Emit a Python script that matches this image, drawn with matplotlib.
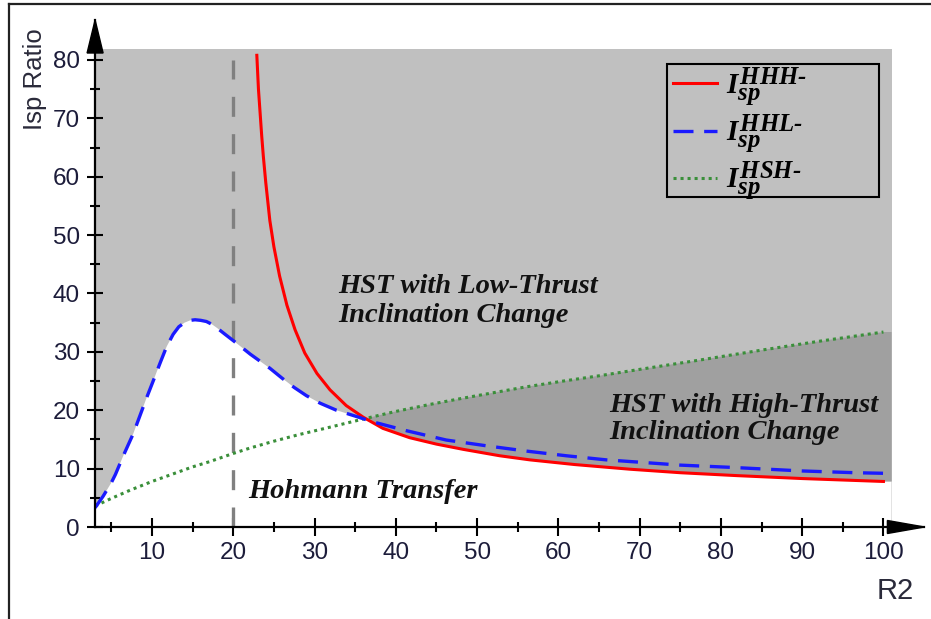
import numpy as np
import matplotlib
matplotlib.use("Agg")
import matplotlib.pyplot as plt
import matplotlib._mathtext as _mt
from matplotlib.patches import Polygon, Rectangle
from matplotlib.lines import Line2D

# ---------------- data ----------------
hhh_x = [22.9, 23.1, 23.3, 23.5, 23.7, 24.0, 24.5, 25.0, 25.7, 26.6, 27.6, 28.8,
         30.3, 31.9, 33.9, 36.0, 38.4, 41.7, 45.0, 48.3, 52.8, 56.5, 62.0, 68.8,
         75.0, 82.0, 90.0, 100.0]
hhh_y = [80.8, 75.0, 71.0, 67.0, 63.5, 59.0, 52.5, 48.0, 43.0, 38.0, 33.8, 29.8,
         26.3, 23.5, 20.8, 18.8, 16.9, 15.3, 14.2, 13.3, 12.2, 11.5, 10.7, 9.9,
         9.3, 8.8, 8.3, 7.8]

hhl_x = [3.0, 4.0, 5.0, 5.5, 6.5, 7.7, 8.5, 9.3, 10.2, 11.0, 11.8, 12.6, 13.3,
         14.0, 14.7, 15.3, 16.0, 16.7, 17.4, 18.0, 19.0, 20.3, 21.2, 22.1, 23.3,
         24.5, 26.0, 27.5, 29.0, 30.7, 32.7, 35.0, 37.2, 41.3, 46.2, 51.2, 56.1,
         61.0, 65.9, 70.0, 75.0, 81.5, 90.0, 96.5, 100.0]
hhl_y = [3.3, 5.3, 7.6, 9.0, 12.3, 16.0, 19.0, 22.0, 25.2, 28.1, 30.9, 33.0, 34.3,
         35.0, 35.4, 35.5, 35.4, 35.2, 34.7, 34.1, 33.0, 31.6, 30.6, 29.6, 28.4,
         27.2, 25.5, 23.9, 22.5, 21.2, 20.0, 19.0, 18.0, 16.5, 14.9, 13.9, 13.0,
         12.2, 11.5, 11.1, 10.6, 10.2, 9.6, 9.3, 9.2]

hsh_x = [3.0, 5.0, 7.3, 10.0, 12.2, 15.0, 17.1, 20.0, 22.0, 25.0, 28.0, 31.9, 36.0,
         40.0, 44.2, 48.0, 52.4, 56.0, 60.6, 65.0, 70.0, 77.4, 85.0, 92.0, 100.0]
hsh_y = [3.6, 4.9, 6.3, 7.8, 8.9, 10.3, 11.2, 12.6, 13.5, 14.7, 15.8, 17.1, 18.5,
         19.8, 21.0, 22.0, 23.1, 24.0, 25.0, 25.9, 27.0, 28.6, 30.3, 31.8, 33.4]

hohmann_x = 20.0
x_ticks = [10, 20, 30, 40, 50, 60, 70, 80, 90, 100]
y_ticks = [0, 10, 20, 30, 40, 50, 60, 70, 80]
legend_labels = [r'$I_{sp}^{HHH\text{-}}$', r'$I_{sp}^{HHL\text{-}}$', r'$I_{sp}^{HSH\text{-}}$']

# ---------------- style ----------------
plt.rcParams['font.family'] = ['Liberation Sans', 'DejaVu Sans']
plt.rcParams['mathtext.fontset'] = 'custom'
plt.rcParams['mathtext.it'] = 'Liberation Serif:italic:bold'
plt.rcParams['mathtext.rm'] = 'Liberation Serif:italic:bold'
plt.rcParams['mathtext.bf'] = 'Liberation Serif:italic:bold'
_mt.SHRINK_FACTOR = 0.85   # larger sub/superscripts, as in the reference legend

W, H = 931, 619
fig = plt.figure(figsize=(W / 100, H / 100), dpi=100)
AXW, AXH = 829.3, 507.0
ax = fig.add_axes([95.1 / W, (H - 527) / H, AXW / W, AXH / H])
ax.set_xlim(3, 105.04)
ax.set_ylim(0, 86.85)
ax.patch.set_alpha(0)

GRID_TOP = 81.85
GRID_RIGHT = 101.0
# background regions
ax.add_patch(Rectangle((3, 0), GRID_RIGHT - 3, GRID_TOP, facecolor='#c0c0c0',
                       edgecolor='none', zorder=0))
xs = np.linspace(3, GRID_RIGHT, 1500)
b_i = np.interp(xs, hhl_x, hhl_y)
r_i = np.interp(xs, hhh_x, hhh_y, left=np.inf)
g_i = np.interp(xs, hsh_x, hsh_y)
white_top = np.minimum(b_i, r_i)
ax.fill_between(xs, 0, white_top, facecolor='white', edgecolor='none', zorder=1)
ax.fill_between(xs, r_i, g_i, where=(g_i > r_i) & np.isfinite(r_i),
                facecolor='#a0a0a0', edgecolor='none', zorder=1, interpolate=True)

# vertical Hohmann line
ax.plot([hohmann_x, hohmann_x], [0, 80], color='#808080', lw=2.4,
        ls=(0, (6.0, 5.2)), zorder=2)

# curves
l1, = ax.plot(hhh_x, hhh_y, color='#ff0000', lw=2.2, zorder=4)
l2, = ax.plot(hhl_x, hhl_y, color='#1a1aff', lw=2.4, ls=(0, (6.0, 3.2)), zorder=4)
l3, = ax.plot(hsh_x, hsh_y, color='#3a8f3a', lw=2.2, ls=(0, (1.0, 1.3)), zorder=3)

# annotations
serif = dict(family='Liberation Serif', weight='bold', style='italic',
             fontsize=20.5, color='#111111', zorder=5)
ax.text(32.9, 40.1, 'HST with Low-Thrust', ha='left', va='baseline', **serif)
ax.text(32.9, 35.1, 'Inclination Change', ha='left', va='baseline', **serif)
ax.text(66.3, 19.7, 'HST with High-Thrust', ha='left', va='baseline', **serif)
ax.text(66.3, 15.1, 'Inclination Change', ha='left', va='baseline', **serif)
ax.text(21.8, 5.0, 'Hohmann Transfer', ha='left', va='baseline', **serif)

# axes spines / ticks
for s in ('top', 'right'):
    ax.spines[s].set_visible(False)
for s in ('left', 'bottom'):
    ax.spines[s].set_linewidth(1.6)
    ax.spines[s].set_zorder(6)
ax.set_xticks(x_ticks)
ax.set_yticks(y_ticks)
ax.set_xticks(np.arange(5, 101, 10), minor=True)
ax.set_yticks(np.arange(5, 81, 10), minor=True)
ax.tick_params(axis='both', which='major', direction='inout', width=1.5,
               labelsize=17.5, colors='black')
ax.tick_params(axis='y', which='major', length=12, pad=5)
ax.tick_params(axis='x', which='major', length=13.5, pad=4)
ax.tick_params(axis='y', which='minor', direction='inout', length=7, width=1.5)
ax.tick_params(axis='x', which='minor', direction='inout', length=6.5, width=1.5)
ax.tick_params(labelcolor='#1c1c3a')

# arrowheads
ax.add_patch(Polygon([[1, 0], [1 - 37 / AXW, 6.5 / AXH], [1 - 37 / AXW, -6.5 / AXH]],
                     closed=True, transform=ax.transAxes, color='black',
                     clip_on=False, zorder=7))
ax.add_patch(Polygon([[0, 1], [-8 / AXW, 1 - 33 / AXH], [8 / AXW, 1 - 33 / AXH]],
                     closed=True, transform=ax.transAxes, color='black',
                     clip_on=False, zorder=7))

# axis labels
ax.text((35 - 95.1) / AXW, (527 - 79) / AXH, 'Isp Ratio', rotation=90,
        ha='center', va='center', fontsize=18.5, color='#2a2a3a', transform=ax.transAxes)
ax.text((895.5 - 95.1) / AXW, (527 - 591) / AXH, 'R2', ha='center', va='center',
        fontsize=21, color='#2a2a3a', transform=ax.transAxes)

# legend (frame drawn separately so it can be wider than its contents)
x0 = (667 - 95.1) / AXW
y1 = (527 - 64) / AXH
w = (879 - 667) / AXW
hgt = (197 - 64) / AXH
ax.add_patch(Rectangle((x0, y1 - hgt), w, hgt, transform=ax.transAxes,
                       facecolor='none', edgecolor='black', lw=1.5,
                       clip_on=False, zorder=8))
leg = ax.legend([l1, l2, l3], legend_labels, loc='upper left',
                bbox_to_anchor=((673 - 95.1) / AXW, (527 - 65) / AXH),
                borderaxespad=0, frameon=False, fontsize=21,
                handlelength=1.5, handletextpad=0.3, labelspacing=0.13,
                borderpad=0.0)
leg.set_zorder(8)

# outer frame (top and left edges)
fig.add_artist(Line2D([9 / W, 1], [1 - 4 / H, 1 - 4 / H], color='#222222', lw=1.6,
                      transform=fig.transFigure))
fig.add_artist(Line2D([9 / W, 9 / W], [0, 1 - 4 / H], color='#222222', lw=1.6,
                      transform=fig.transFigure))

fig.savefig('out.png', dpi=100)
